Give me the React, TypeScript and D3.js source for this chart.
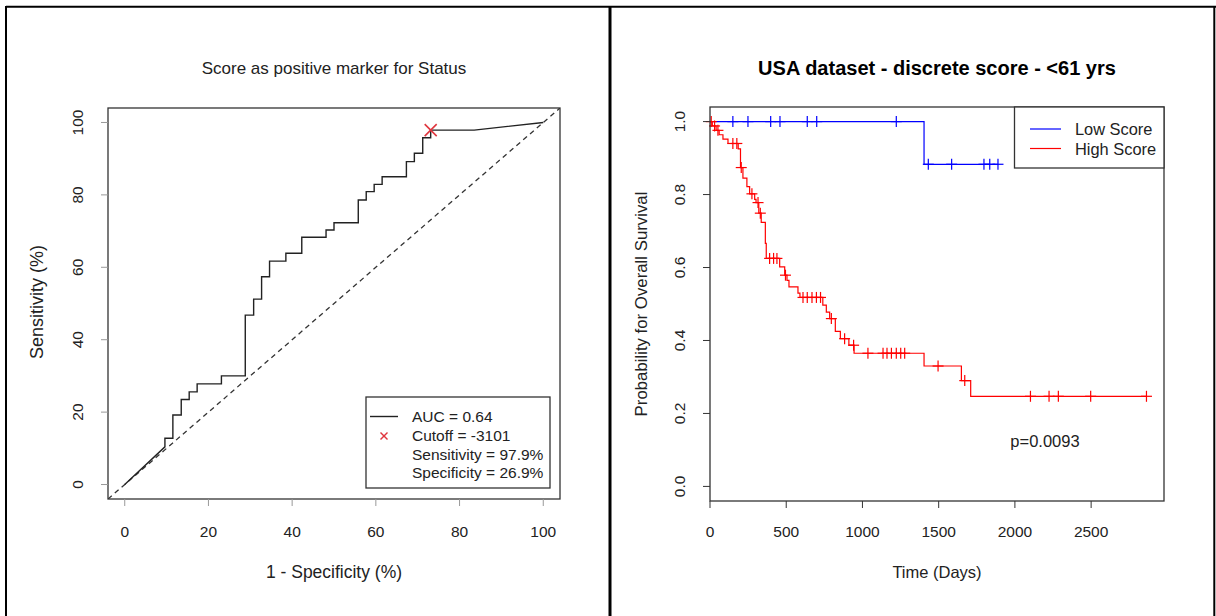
import React from "react";
import * as d3 from "d3";

const FONT = "'Liberation Sans', Arial, Helvetica, sans-serif";

// ROC curve vertices (1 - specificity %, sensitivity %)
const rocFpr = [0, 9.6, 9.6, 11.5, 11.5, 13.5, 13.5, 15.4, 15.4, 17.3, 17.3, 23.1, 23.1, 28.8, 28.8, 30.8, 30.8, 32.7, 32.7, 34.6, 34.6, 38.5, 38.5, 42.3, 42.3, 48.1, 48.1, 50, 50, 55.8, 55.8, 57.7, 57.7, 59.6, 59.6, 61.5, 61.5, 67.3, 67.3, 69.2, 69.2, 71.2, 71.2, 73.1, 73.1, 83.5, 100];
const rocTpr = [0, 10.4, 12.8, 12.8, 19.2, 19.2, 23.5, 23.5, 25.6, 25.6, 27.8, 27.8, 30.0, 30.0, 46.8, 46.8, 51.2, 51.2, 57.4, 57.4, 61.7, 61.7, 63.9, 63.9, 68.3, 68.3, 70.3, 70.3, 72.3, 72.3, 78.6, 78.6, 80.9, 80.9, 82.9, 82.9, 85.0, 85.0, 89.2, 89.2, 91.5, 91.5, 95.8, 95.8, 97.9, 97.9, 100];
const cutoffPoint = { fpr: 73.1, tpr: 97.9 };
const rocTicks = [0, 20, 40, 60, 80, 100];
const rocLegend = ["AUC = 0.64", "Cutoff = -3101", "Sensitivity = 97.9%", "Specificity = 26.9%"];

// Kaplan-Meier: Low Score
const lowEventTimes = [1404];
const lowEventSurv = [0.883];
const lowCensor = [150, 249, 398, 459, 638, 700, 1222, 1432, 1585, 1797, 1835, 1889];
// Kaplan-Meier: High Score
const highEventTimes = [15, 40, 60, 85, 118, 185, 200, 216, 242, 260, 293, 302, 320, 336, 363, 369, 457, 490, 505, 518, 577, 590, 740, 763, 785, 822, 855, 911, 945, 1404, 1649, 1710];
const highEventSurv = [0.988, 0.976, 0.964, 0.952, 0.94, 0.925, 0.874, 0.845, 0.822, 0.802, 0.787, 0.778, 0.749, 0.724, 0.666, 0.625, 0.602, 0.579, 0.565, 0.547, 0.53, 0.518, 0.497, 0.478, 0.46, 0.425, 0.405, 0.387, 0.365, 0.33, 0.29, 0.247];
const highCensor = [8, 30, 52, 150, 176, 205, 275, 315, 330, 391, 417, 439, 495, 610, 638, 669, 698, 725, 796, 883, 942, 1036, 1135, 1161, 1190, 1222, 1251, 1277, 1496, 1671, 2102, 2224, 2285, 2497, 2863];
const kmXTicks = [0, 500, 1000, 1500, 2000, 2500];
const kmYTicks = [0, 0.2, 0.4, 0.6, 0.8, 1.0];
const kmSeries = ["Low Score", "High Score"];
const kmColors = ["#0000FF", "#FF0000"];
const pValueText = "p=0.0093";

function survAt(times: number[], surv: number[], t: number) {
  let s = 1;
  for (let i = 0; i < times.length; i++) if (times[i] <= t) s = surv[i];
  return s;
}

export default function App() {
  // Left panel scales
  const L = { x0: 108, x1: 560, y0: 108, y1: 499 };
  const rx = d3.scaleLinear().domain([-4, 104]).range([L.x0, L.x1]);
  const ry = d3.scaleLinear().domain([-4, 104]).range([L.y1, L.y0]);
  const rocLine = d3.line<number>().x((_, i) => rx(rocFpr[i])).y((d) => ry(d));
  const rocPath = rocLine(rocTpr) || "";

  // Right panel scales
  const R = { x0: 710, x1: 1164, y0: 107, y1: 501 };
  const kx = d3.scaleLinear().domain([0, 2978]).range([R.x0, R.x1]);
  const ky = d3.scaleLinear().domain([-0.04, 1.04]).range([R.y1, R.y0]);
  const step = d3.line<[number, number]>().x((d) => kx(d[0])).y((d) => ky(d[1])).curve(d3.curveStepAfter);

  const kmData = [
    { times: lowEventTimes, surv: lowEventSurv, censor: lowCensor },
    { times: highEventTimes, surv: highEventSurv, censor: highCensor },
  ];

  const cross = (cx: number, cy: number, r: number, color: string, key: string, sw = 1.5) => (
    <g key={key} stroke={color} strokeWidth={sw}>
      <line x1={cx - r} y1={cy - r} x2={cx + r} y2={cy + r} />
      <line x1={cx - r} y1={cy + r} x2={cx + r} y2={cy - r} />
    </g>
  );

  const txt = "#222";

  return (
    <svg width={1216} height={616} style={{ position: "absolute", left: 0, top: 0, background: "#fff" }} fontFamily={FONT}>
      <rect x={0} y={0} width={1216} height={616} fill="#fff" />
      {/* frame */}
      <line x1={6} y1={6.7} x2={1216} y2={6.7} stroke="#000" strokeWidth={2} />
      <line x1={6} y1={6} x2={6} y2={616} stroke="#000" strokeWidth={2} />
      <line x1={610} y1={6} x2={610} y2={616} stroke="#000" strokeWidth={3} />
      <line x1={1214.3} y1={6} x2={1214.3} y2={616} stroke="#000" strokeWidth={2} />

      {/* ===== Left panel: ROC ===== */}
      <text x={(L.x0 + L.x1) / 2} y={68} textAnchor="middle" dominantBaseline="central" fontSize={17} fill={txt}>
        Score as positive marker for Status
      </text>
      <defs>
        <clipPath id="rocClip">
          <rect x={L.x0} y={L.y0} width={L.x1 - L.x0} height={L.y1 - L.y0} />
        </clipPath>
      </defs>
      <line
        x1={rx(-4)} y1={ry(-4)} x2={rx(104)} y2={ry(104)}
        stroke="#333" strokeWidth={1.3} strokeDasharray="5,4" clipPath="url(#rocClip)"
      />
      <path d={rocPath} fill="none" stroke="#222" strokeWidth={1.4} />
      {cross(rx(cutoffPoint.fpr), ry(cutoffPoint.tpr), 6, "#e0363e", "cut", 1.6)}
      <rect x={L.x0} y={L.y0} width={L.x1 - L.x0} height={L.y1 - L.y0} fill="none" stroke="#333" strokeWidth={1.3} />
      {rocTicks.map((t) => (
        <g key={"rx" + t}>
          <line x1={rx(t)} x2={rx(t)} y1={L.y1} y2={L.y1 + 7} stroke="#999" />
          <text x={rx(t)} y={531} textAnchor="middle" dominantBaseline="central" fontSize={15.5} fill={txt}>{t}</text>
          <line x1={L.x0} x2={L.x0 - 7} y1={ry(t)} y2={ry(t)} stroke="#999" />
          <text x={78} y={ry(t)} textAnchor="middle" dominantBaseline="central" fontSize={15.5} fill={txt}
            transform={`rotate(-90, 78, ${ry(t)})`}>{t}</text>
        </g>
      ))}
      <text x={(L.x0 + L.x1) / 2} y={572} textAnchor="middle" dominantBaseline="central" fontSize={17.5} fill={txt}>
        1 - Specificity (%)
      </text>
      <text x={37} y={302} textAnchor="middle" dominantBaseline="central" fontSize={18} fill={txt}
        transform="rotate(-90, 37, 302)">Sensitivity (%)</text>
      {/* legend */}
      <rect x={366} y={397} width={184} height={91} fill="#fff" stroke="#333" strokeWidth={1.3} />
      <line x1={370} x2={398} y1={416.5} y2={416.5} stroke="#222" strokeWidth={1.4} />
      {cross(384, 436, 3.5, "#e0363e", "legx", 1.4)}
      {rocLegend.map((s, i) => (
        <text key={s} x={412} y={416.5 + i * 18.8} dominantBaseline="central" fontSize={15.5} fill={txt}>{s}</text>
      ))}

      {/* ===== Right panel: KM ===== */}
      <text x={(R.x0 + R.x1) / 2} y={68} textAnchor="middle" dominantBaseline="central" fontSize={20} fontWeight="bold" fill="#000">
        USA dataset - discrete score - &lt;61 yrs
      </text>
      {kmData.map((sd, si) => {
        const last = sd.censor[sd.censor.length - 1];
        const pts: [number, number][] = [[0, 1]];
        sd.times.forEach((t, i) => pts.push([t, sd.surv[i]]));
        pts.push([Math.max(last, sd.times[sd.times.length - 1]), sd.surv[sd.surv.length - 1]]);
        return (
          <g key={"km" + si}>
            <path d={step(pts) || ""} fill="none" stroke={kmColors[si]} strokeWidth={1.2} />
            {sd.censor.map((c, ci) => {
              const cx = kx(c);
              const cy = ky(survAt(sd.times, sd.surv, c));
              return (
                <g key={ci} stroke={kmColors[si]} strokeWidth={1.2}>
                  <line x1={cx - 5.5} x2={cx + 5.5} y1={cy} y2={cy} />
                  <line x1={cx} x2={cx} y1={cy - 5.5} y2={cy + 5.5} />
                </g>
              );
            })}
          </g>
        );
      })}
      <rect x={R.x0} y={R.y0} width={R.x1 - R.x0} height={R.y1 - R.y0} fill="none" stroke="#333" strokeWidth={1.3} />
      {kmXTicks.map((t) => (
        <g key={"kx" + t}>
          <line x1={kx(t)} x2={kx(t)} y1={R.y1} y2={R.y1 + 7} stroke="#333" />
          <text x={kx(t)} y={531} textAnchor="middle" dominantBaseline="central" fontSize={15.5} fill={txt}>{t}</text>
        </g>
      ))}
      {kmYTicks.map((t) => (
        <g key={"ky" + t}>
          <line x1={R.x0} x2={R.x0 - 7} y1={ky(t)} y2={ky(t)} stroke="#333" />
          <text x={680} y={ky(t)} textAnchor="middle" dominantBaseline="central" fontSize={15.5} fill={txt}
            transform={`rotate(-90, 680, ${ky(t)})`}>{t.toFixed(1)}</text>
        </g>
      ))}
      <text x={(R.x0 + R.x1) / 2} y={572} textAnchor="middle" dominantBaseline="central" fontSize={16.5} fill={txt}>Time (Days)</text>
      <text x={641} y={304} textAnchor="middle" dominantBaseline="central" fontSize={16.8} fill={txt}
        transform="rotate(-90, 641, 304)">Probability for Overall Survival</text>
      <text x={1045} y={441} textAnchor="middle" dominantBaseline="central" fontSize={16.5} fill={txt}>{pValueText}</text>
      {/* KM legend */}
      <rect x={1014.5} y={R.y0} width={R.x1 - 1014.5} height={61} fill="#fff" stroke="#333" strokeWidth={1.3} />
      {kmSeries.map((s, i) => (
        <g key={s}>
          <line x1={1030} x2={1061} y1={129 + i * 19.5} y2={129 + i * 19.5} stroke={kmColors[i]} strokeWidth={1.2} />
          <text x={1075} y={129 + i * 19.5} dominantBaseline="central" fontSize={16.4} fill={txt}>{s}</text>
        </g>
      ))}
    </svg>
  );
}
